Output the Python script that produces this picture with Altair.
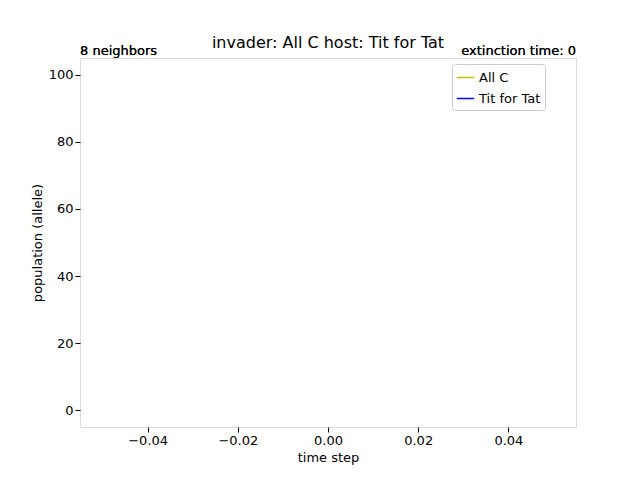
import altair as alt
import pandas as pd

STRATEGIES = ["All C", "Tit for Tat"]
TIME_STEPS = [0, 0]
POPULATION = [0, 100]
COLOURS = ["#bfbf00", "#0000ff"]

df = pd.DataFrame({"strategy": STRATEGIES, "time": TIME_STEPS, "population": POPULATION})

FONT = "DejaVu Sans"
AXIS_STYLE = dict(
    grid=False,
    domain=False,
    tickColor="black",
    tickSize=5,
    labelFont=FONT,
    labelFontSize=13,
    labelColor="black",
    titleFont=FONT,
    titleFontSize=13,
    titleFontWeight="normal",
    titleColor="black",
)

lines = (
    alt.Chart(df)
    .mark_line(strokeWidth=1.5)
    .encode(
        x=alt.X(
            "time:Q",
            title="time step",
            scale=alt.Scale(domain=[-0.055, 0.055], nice=False, zero=False),
            axis=alt.Axis(values=[-0.04, -0.02, 0, 0.02, 0.04], format=".2f", **AXIS_STYLE),
        ),
        y=alt.Y(
            "population:Q",
            title="population (allele)",
            scale=alt.Scale(domain=[-5, 105], nice=False),
            axis=alt.Axis(values=[0, 20, 40, 60, 80, 100], **AXIS_STYLE),
        ),
        color=alt.Color(
            "strategy:N",
            scale=alt.Scale(domain=STRATEGIES, range=COLOURS),
            legend=alt.Legend(
                title=None,
                orient="none",
                legendX=372,
                legendY=6,
                symbolType="stroke",
                symbolStrokeWidth=1.5,
                symbolSize=300,
                labelFont=FONT,
                labelFontSize=13,
                labelColor="black",
                fillColor="white",
                strokeColor="#cccccc",
                padding=4,
                cornerRadius=3,
                rowPadding=4,
            ),
        ),
    )
)

left_note = alt.Chart(df).mark_text(
    text="8 neighbors", align="left", baseline="bottom", font=FONT,
    fontSize=13, fontWeight="normal", color="black"
).encode(x=alt.value(0), y=alt.value(0))

right_note = alt.Chart(df).mark_text(
    text="extinction time: 0", align="right", baseline="bottom", font=FONT,
    fontSize=13, fontWeight="normal", color="black"
).encode(x=alt.value(496), y=alt.value(0))

chart = (
    alt.layer(lines, left_note, right_note)
    .properties(
        width=496,
        height=369,
        autosize=alt.AutoSizeParams(type="none"),
        padding={"left": 72, "top": 50, "right": 56, "bottom": 45},
        title=alt.TitleParams(
            "invader: All C host: Tit for Tat", font=FONT, fontSize=16,
            fontWeight="normal", color="black", offset=-6
        ),
    )
    .configure_view(stroke="black", strokeWidth=1)
    .configure_axis(grid=False)
    .configure(background="white")
)

chart.save("out.html", embed_options={"renderer": "svg", "actions": False})
